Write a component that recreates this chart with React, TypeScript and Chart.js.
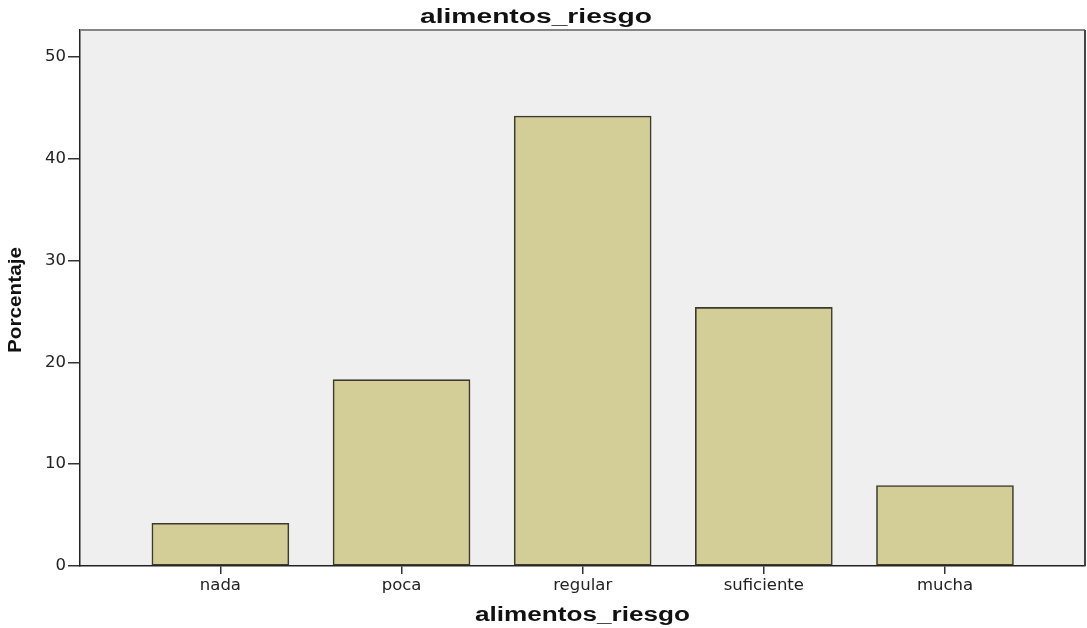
import React, { useEffect, useRef } from "react";
import { Chart, registerables } from "chart.js";

Chart.register(...registerables);

// ---- data ----
const categories: string[] = ["nada", "poca", "regular", "suficiente", "mucha"];
const percentages: number[] = [4.2, 18.3, 44.2, 25.4, 7.9];
const yTicks: number[] = [0, 10, 20, 30, 40, 50];
const chartTitle = "alimentos_riesgo";
const xTitle = "alimentos_riesgo";
const yTitle = "Porcentaje";

const W = 1087;
const H = 628;

function drawStretched(
  ctx: CanvasRenderingContext2D,
  text: string,
  cx: number,
  cy: number,
  font: string,
  targetW: number,
  rotate = 0
) {
  ctx.save();
  ctx.font = font;
  const w = ctx.measureText(text).width;
  const sx = targetW / w;
  ctx.translate(cx, cy);
  if (rotate) ctx.rotate(rotate);
  ctx.scale(sx, 1);
  ctx.fillStyle = "#111";
  ctx.textAlign = "center";
  ctx.textBaseline = "alphabetic";
  ctx.fillText(text, 0, 0);
  ctx.restore();
}

const framePlugin = {
  id: "spssFrame",
  beforeDraw(chart: any) {
    const { ctx, chartArea } = chart;
    const { left, top, right, bottom } = chartArea;
    ctx.save();
    ctx.fillStyle = "#ffffff";
    ctx.fillRect(0, 0, chart.width, chart.height);
    ctx.fillStyle = "#EFEFEF";
    ctx.fillRect(left, top, right - left, bottom - top);
    ctx.restore();
  },
  afterDraw(chart: any) {
    const { ctx, chartArea } = chart;
    const { left, top, right, bottom } = chartArea;
    ctx.save();
    ctx.strokeStyle = "#858585";
    ctx.lineWidth = 2;
    ctx.beginPath();
    ctx.moveTo(left, top);
    ctx.lineTo(right, top);
    ctx.stroke();
    ctx.strokeStyle = "#444";
    ctx.beginPath();
    ctx.moveTo(right, top);
    ctx.lineTo(right, bottom);
    ctx.stroke();
    ctx.restore();

    const font = 'bold 20px "Liberation Sans", Arial, sans-serif';
    drawStretched(ctx, chartTitle, 536, 22.5, font, 232);
    drawStretched(ctx, xTitle, (left + right) / 2, 621, font, 215);
    drawStretched(
      ctx,
      yTitle,
      21,
      (top + bottom) / 2 + 2,
      'bold 19px "Liberation Sans", Arial, sans-serif',
      106,
      -Math.PI / 2
    );
  },
};

export default function App() {
  const canvasRef = useRef<HTMLCanvasElement | null>(null);

  useEffect(() => {
    if (!canvasRef.current) return;
    const tickFont = { family: "DejaVu Sans", size: 16.5 };
    const chart = new Chart(canvasRef.current, {
      type: "bar",
      data: {
        datasets: [
          {
            data: categories.map((_, i) => ({ x: i, y: percentages[i] })),
            backgroundColor: "#D3CE97",
            borderColor: "#3B3A2C",
            borderWidth: 1.6,
            borderSkipped: false,
            barThickness: 137,
          } as any,
        ],
      },
      options: {
        animation: false,
        responsive: false,
        maintainAspectRatio: false,
        layout: { padding: { top: 30, right: 2, left: 0, bottom: 0 } },
        plugins: {
          legend: { display: false },
          tooltip: { enabled: false },
          title: { display: false },
        },
        scales: {
          x: {
            type: "linear",
            offset: false,
            min: -0.775,
            max: 4.773,
            afterBuildTicks: (s: any) => {
              s.ticks = categories.map((_, i) => ({ value: i }));
            },
            afterFit: (s: any) => {
              s.height = 62;
            },
            ticks: {
              callback: (v: any) => categories[Math.round(Number(v))] ?? "",
              font: tickFont,
              color: "#222",
              padding: 2,
              maxRotation: 0,
              autoSkip: false,
            },
            grid: {
              display: true,
              offset: false,
              drawOnChartArea: false,
              drawTicks: true,
              tickLength: 8,
              color: "#333",
              lineWidth: 1.5,
            },
            border: { display: true, color: "#222", width: 1.5 },
          } as any,
          y: {
            type: "linear",
            min: 0,
            max: 52.65,
            afterBuildTicks: (s: any) => {
              s.ticks = yTicks.map((v) => ({ value: v }));
            },
            afterFit: (s: any) => {
              s.width = 80;
            },
            ticks: {
              font: tickFont,
              color: "#222",
              padding: 2,
            },
            grid: {
              display: true,
              drawOnChartArea: false,
              drawTicks: true,
              tickLength: 12,
              color: "#333",
              lineWidth: 1.5,
            },
            border: { display: true, color: "#222", width: 1.5 },
          } as any,
        },
      },
      plugins: [framePlugin],
    });
    return () => chart.destroy();
  }, []);

  return (
    <div style={{ position: "absolute", left: 0, top: 0, width: W, height: H }}>
      <canvas ref={canvasRef} width={W} height={H} />
    </div>
  );
}
